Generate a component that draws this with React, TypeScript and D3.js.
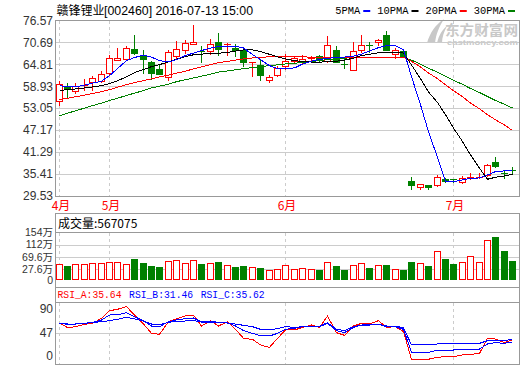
import React from "react";
import * as d3 from "d3";

// 赣锋锂业 daily K-line, 2016-04 .. 2016-07-13
const stockName = "赣锋锂业";
const stockStamp = "[002460] 2016-07-13 15:00";

const open = [54.88, 58.75, 57.57, 59.18, 59.99, 60.26, 62.51, 66.09, 66.28, 68.96, 67.43, 65.55, 63.59, 61.44, 67.08, 68.78, 70.39, 68.37, 68.37, 70.85, 69.93, 69.31, 68.59, 65.23, 64.74, 60.52, 62.06, 64.48, 65.63, 65.47, 66.45, 67.16, 65.63, 68.78, 64.9, 63.4, 68.59, 69.95, 70.85, 72.81, 67.7, 68.32, 33.65, 32.03, 32.41, 32.41, 34.02, 33.97, 33.3, 34.64, 34.56, 35.18, 38.75, 35.72, 36.39];
const high = [60.26, 59.83, 59.83, 60.9, 61.79, 62.94, 67.43, 69.23, 69.66, 72.81, 68.78, 65.63, 64.74, 68.59, 71.01, 71.33, 75.49, 69.66, 71.65, 73.26, 70.66, 70.25, 69.5, 65.5, 66.09, 62.06, 64.48, 67.5, 67.0, 67.43, 67.16, 67.43, 72.35, 69.85, 66.54, 70.85, 72.62, 70.74, 71.73, 73.69, 69.23, 68.78, 34.56, 32.68, 32.49, 35.18, 34.29, 34.18, 34.91, 35.64, 35.64, 38.14, 40.1, 36.52, 37.25];
const low = [53.99, 55.87, 57.14, 58.02, 58.02, 59.99, 62.33, 66.01, 66.09, 67.7, 62.51, 60.98, 62.19, 60.71, 66.54, 67.89, 70.31, 65.42, 67.7, 67.43, 67.3, 67.16, 64.48, 61.79, 60.71, 59.99, 61.6, 63.67, 65.3, 65.2, 65.9, 65.63, 65.36, 65.36, 63.86, 63.21, 68.05, 68.05, 70.12, 68.59, 66.54, 66.97, 31.33, 31.41, 31.41, 32.22, 33.38, 33.38, 32.95, 34.1, 34.29, 34.91, 37.25, 34.29, 35.64];
const close = [59.64, 58.21, 59.1, 59.37, 61.17, 62.33, 66.54, 66.54, 69.23, 67.89, 66.28, 62.59, 62.33, 68.05, 68.96, 70.58, 70.74, 68.24, 70.39, 68.96, 70.39, 68.59, 65.36, 65.42, 62.06, 61.44, 63.86, 65.63, 66.54, 66.28, 66.54, 65.9, 70.12, 65.47, 64.6, 68.32, 70.12, 69.85, 71.46, 68.78, 68.78, 67.16, 32.49, 32.68, 32.03, 34.56, 33.65, 33.75, 34.45, 34.72, 34.64, 37.87, 37.6, 35.58, 36.25];

const ma5 = [59.1, 58.75, 58.75, 59.23, 59.77, 60.31, 61.79, 63.67, 65.82, 66.63, 67.3, 66.76, 65.82, 65.47, 66.09, 67.16, 67.84, 68.51, 69.18, 69.58, 69.66, 69.66, 69.23, 67.43, 66.09, 64.48, 63.67, 63.67, 63.86, 64.88, 65.69, 66.09, 66.44, 66.63, 66.76, 67.03, 67.57, 68.37, 69.31, 69.85, 69.85, 68.78, 61.52, 53.99, 46.74, 39.88, 33.3, 33.38, 33.84, 34.29, 34.37, 35.18, 36.07, 36.25, 36.52];
const ma10 = [57.84, 58.02, 58.21, 58.48, 58.75, 59.1, 59.64, 60.44, 61.44, 62.59, 63.4, 64.21, 64.74, 65.47, 66.22, 66.89, 67.38, 67.57, 67.7, 67.78, 68.02, 68.37, 68.7, 68.67, 68.24, 67.51, 66.81, 66.28, 65.82, 65.6, 65.44, 65.36, 65.66, 65.66, 65.95, 66.49, 67.16, 67.54, 67.92, 68.1, 68.05, 67.84, 64.64, 60.98, 57.41, 54.61, 51.3, 47.73, 44.13, 40.55, 36.98, 34.02, 34.56, 34.91, 35.31];
const ma20 = [55.34, 55.74, 56.14, 56.55, 57.0, 57.49, 58.02, 58.7, 59.37, 59.91, 60.44, 60.93, 61.44, 61.95, 62.46, 63.0, 63.59, 64.15, 64.74, 65.28, 65.63, 65.95, 66.28, 66.54, 66.71, 66.84, 66.97, 66.89, 66.89, 66.81, 66.76, 66.74, 66.7, 66.68, 66.72, 66.69, 66.73, 66.7, 66.68, 66.71, 66.7, 66.68, 65.63, 64.13, 62.51, 60.98, 59.37, 57.76, 56.14, 54.45, 52.92, 51.3, 49.96, 48.54, 47.09];
const ma30 = [51.04, 51.71, 52.38, 53.08, 53.75, 54.42, 55.1, 55.77, 56.44, 57.11, 57.78, 58.48, 58.97, 59.5, 60.17, 60.71, 61.17, 61.65, 62.19, 62.73, 63.05, 63.35, 63.67, 63.94, 64.21, 64.48, 64.69, 64.93, 65.09, 65.34, 65.55, 65.82, 66.09, 66.36, 66.49, 66.58, 66.6, 66.63, 66.65, 66.67, 66.68, 66.66, 65.95, 64.88, 63.78, 62.7, 61.6, 60.52, 59.45, 58.35, 57.27, 56.2, 55.12, 54.13, 53.11];

// 成交量, 万手
const volume = [45.7, 38.9, 45.7, 45.7, 48.1, 48.1, 52.5, 52.5, 45.7, 62.8, 49.1, 38.9, 34.4, 54.9, 59.4, 49.1, 59.4, 45.7, 49.1, 52.5, 41.3, 34.4, 38.9, 34.4, 31.0, 25.2, 27.6, 41.3, 27.6, 31.0, 27.6, 25.2, 51.5, 38.9, 25.2, 41.3, 48.1, 32.0, 41.3, 42.3, 27.6, 25.2, 52.5, 48.1, 38.9, 90.1, 62.8, 45.7, 52.5, 72.0, 52.5, 127.7, 137.9, 90.1, 56.7075];

const rsiA = [66.0, 57.0, 58.8, 63.0, 64.8, 73.8, 87.5, 89.9, 94.7, 79.7, 63.6, 46.9, 45.1, 67.8, 72.6, 78.5, 79.7, 60.0, 69.6, 60.0, 67.8, 54.1, 37.9, 36.1, 26.0, 21.8, 37.9, 52.9, 52.9, 57.6, 61.8, 57.6, 77.9, 48.1, 43.3, 60.0, 64.8, 63.6, 69.6, 57.6, 58.8, 49.9, 0.3, 0.3, 0.5, 3.9, 5.1, 5.1, 8.1, 9.2, 11.0, 37.9, 36.7, 30.2, 35.64];
const rsiB = [64.8, 63.0, 63.6, 64.8, 66.6, 70.8, 79.7, 80.3, 83.9, 76.7, 69.6, 60.0, 58.8, 67.8, 70.8, 73.2, 74.4, 67.2, 68.4, 66.6, 66.0, 60.0, 51.7, 46.9, 42.7, 42.1, 46.9, 54.1, 55.9, 58.8, 59.4, 58.8, 64.8, 51.7, 48.1, 57.6, 61.8, 61.8, 63.0, 58.8, 58.8, 54.1, 12.9, 12.9, 12.9, 17.0, 17.0, 17.0, 18.2, 18.2, 18.8, 27.8, 30.2, 29.0, 31.46];
const rsiC = [64.8, 63.6, 63.6, 64.8, 66.0, 67.8, 69.6, 72.0, 75.6, 72.6, 69.0, 63.6, 62.4, 66.6, 68.4, 69.0, 69.6, 67.2, 67.2, 66.0, 65.4, 63.6, 61.2, 58.8, 54.1, 52.9, 55.3, 58.8, 57.6, 58.8, 60.0, 59.4, 66.0, 54.1, 51.7, 58.8, 61.8, 62.4, 63.0, 60.0, 60.0, 57.0, 26.0, 26.0, 26.0, 27.8, 27.8, 27.8, 28.4, 29.0, 29.0, 33.7, 34.3, 34.3, 35.62];

const priceTicks = [76.57, 70.69, 64.81, 58.93, 53.05, 47.17, 41.29, 35.41, 29.53];
const volumeTicks = [154, 112, 69.6, 27.6, 0];
const volumeTickLabels = ["154万", "112万", "69.6万", "27.6万", "0"];
const rsiTicks = [90, 47, 0];
const monthStarts = [0, 6, 27, 47];
const monthLabels = ["4月", "5月", "6月", "7月"];
const maLabels = ["5PMA", "10PMA", "20PMA", "30PMA"];
const maColors = ["#0000ff", "#000000", "#ff0000", "#008000"];

const RED = "#ff0000";
const GREEN = "#008000";
const BORDER = "#999999";
const GRID = "#cccccc";
const SANS = "'Liberation Sans', Arial, 'Noto Sans CJK SC', sans-serif";
const CJK = "'Noto Sans CJK SC', 'Liberation Sans', sans-serif";
const MONO = "'Liberation Mono', 'DejaVu Sans Mono', monospace";

const L = 56;
const R = 519.5;
const VOL_BASE = 280;
const PANEL_BOTTOM = 364;

export default function App() {
  const n = open.length;
  const x = d3.scalePoint<number>().domain(d3.range(n)).range([58.5, 512.1]);
  const yP = d3.scaleLinear().domain([29.53, 76.57]).range([196, 20.5]);
  const yV = d3.scaleLinear().domain([0, 154]).range([277.4, 232.3]);
  const yR = d3.scaleLinear().domain([0, 100]).range([359.5, 303.7]);
  const cxOf = (i: number) => Math.round(x(i) as number);
  const h = (v: number) => Math.round(v) + 0.5;

  const priceLine = d3.line<number>().x((_, i) => cxOf(i) + 0.5).y((v) => yP(v));
  const rsiLine = d3.line<number>().x((_, i) => cxOf(i) + 0.5).y((v) => yR(v));

  // legend layout, right aligned
  const charW = 6.25;
  const dashW = 7;
  let total = 0;
  maLabels.forEach((lb, k) => {
    total += lb.length * charW + 3 + dashW + (k < maLabels.length - 1 ? 7 : 0);
  });
  let lx = 515 - total;
  const legend = maLabels.map((lb, k) => {
    const item = { lb, tx: lx, w: lb.length * charW, dx: lx + lb.length * charW + 3, color: maColors[k] };
    lx += lb.length * charW + 3 + dashW + 7;
    return item;
  });

  const monthLines = (y1: number, y2: number) =>
    monthStarts.map((mi) => (
      <line key={mi} x1={cxOf(mi) + 0.5} x2={cxOf(mi) + 0.5} y1={y1} y2={y2} stroke={GRID} strokeDasharray="3,3" />
    ));

  const rsiHeader = [
    { t: `RSI_A:${rsiA[n - 1].toFixed(2)}`, c: RED },
    { t: `RSI_B:${rsiB[n - 1].toFixed(2)}`, c: "#0000ff" },
    { t: `RSI_C:${rsiC[n - 1].toFixed(2)}`, c: "#0000ff" },
  ];

  const volLabelY = (t: number) => (t === 0 ? VOL_BASE + 0.5 : yV(t));

  return (
    <svg width={520} height={365} style={{ position: "absolute", left: 0, top: 0, display: "block" }}>
      <rect width={520} height={365} fill="#fff" />

      {/* title */}
      <text x={56.5} y={14.5} fontFamily={CJK} fontSize={12} fill="#000">{stockName}</text>
      <text x={104} y={14.5} fontFamily={SANS} fontSize={12} fill="#000" textLength={149} lengthAdjust="spacingAndGlyphs">{stockStamp}</text>

      {/* MA legend */}
      {legend.map((it) => (
        <g key={it.lb}>
          <text x={it.tx} y={14} fontFamily={MONO} fontSize={11} fill="#000" textLength={it.w} lengthAdjust="spacingAndGlyphs">{it.lb}</text>
          <rect x={it.dx} y={10} width={dashW} height={2} fill={it.color} />
        </g>
      ))}

      {/* watermark */}
      <g fill="#c8c8c8">
        <path d="M427,43 C430,33 435,25 444,19 C439,27 436,34 435,43 Z" />
        <path d="M437,43 C439,35 442,30 447,26 C444,32 442,37 442,43 Z" />
        <text x={445} y={35} fontFamily={CJK} fontWeight="bold" fontSize={14} textLength={73} lengthAdjust="spacingAndGlyphs">东方财富网</text>
        <text x={447} y={44.5} fontFamily={SANS} fontWeight="bold" fontSize={8} textLength={71} lengthAdjust="spacingAndGlyphs">eastmoney.com</text>
      </g>

      {/* main panel */}
      <g shapeRendering="crispEdges">
        {priceTicks.slice(1, -1).map((t) => (
          <line key={t} x1={L} x2={R} y1={h(yP(t))} y2={h(yP(t))} stroke={GRID} />
        ))}
        {monthLines(21, 196)}
        <line x1={L} x2={R} y1={20.5} y2={20.5} stroke={BORDER} />
        <line x1={L} x2={R} y1={196.5} y2={196.5} stroke={BORDER} />
        <line x1={L - 0.5} x2={L - 0.5} y1={20} y2={197} stroke={BORDER} />
        <line x1={R} x2={R} y1={20} y2={197} stroke={BORDER} />
      </g>
      {priceTicks.map((t) => (
        <text key={t} x={53} y={yP(t)} dy="0.35em" textAnchor="end" fontFamily={SANS} fontSize={12} fill="#333">
          {t.toFixed(2)}
        </text>
      ))}

      {/* candles */}
      <g shapeRendering="crispEdges">
        {open.map((o, i) => {
          const c = close[i];
          const up = c >= o;
          const cx = cxOf(i);
          const col = up ? RED : GREEN;
          const yt = Math.round(yP(Math.max(o, c)));
          const yb = Math.round(yP(Math.min(o, c)));
          const yh = Math.round(yP(high[i]));
          const yl = Math.round(yP(low[i]));
          if (yb - yt < 2) {
            return (
              <g key={i}>
                <line x1={cx + 0.5} x2={cx + 0.5} y1={yh} y2={yl + 1} stroke={col} />
                <line x1={cx - 3} x2={cx + 4} y1={yt + 0.5} y2={yt + 0.5} stroke={col} />
              </g>
            );
          }
          if (up) {
            return (
              <g key={i}>
                <line x1={cx + 0.5} x2={cx + 0.5} y1={yh} y2={yt} stroke={col} />
                <line x1={cx + 0.5} x2={cx + 0.5} y1={yb} y2={yl + 1} stroke={col} />
                <rect x={cx - 2.5} y={yt + 0.5} width={6} height={yb - yt} fill="#fff" stroke={col} />
              </g>
            );
          }
          return (
            <g key={i}>
              <line x1={cx + 0.5} x2={cx + 0.5} y1={yh} y2={yl + 1} stroke={col} />
              <rect x={cx - 3} y={yt} width={7} height={yb - yt + 1} fill={col} />
            </g>
          );
        })}
      </g>

      {/* moving averages */}
      <g fill="none" strokeWidth={1} shapeRendering="crispEdges">
        <path d={priceLine(ma30) || ""} stroke={maColors[3]} />
        <path d={priceLine(ma20) || ""} stroke={maColors[2]} />
        <path d={priceLine(ma10) || ""} stroke={maColors[1]} />
        <path d={priceLine(ma5) || ""} stroke={maColors[0]} />
      </g>

      {/* month labels */}
      {monthStarts.map((mi, k) => (
        <text key={mi} x={cxOf(mi) + 2} y={210} textAnchor="middle" fontFamily={CJK} fontSize={12} fill={RED}>
          {monthLabels[k]}
        </text>
      ))}

      {/* volume panel */}
      <g shapeRendering="crispEdges">
        {volumeTicks.slice(1, -1).map((t) => (
          <line key={t} x1={L} x2={R} y1={h(yV(t))} y2={h(yV(t))} stroke={GRID} />
        ))}
        {monthLines(233, VOL_BASE)}
        <line x1={L} x2={R} y1={213.5} y2={213.5} stroke={BORDER} />
        <line x1={L} x2={R} y1={232.5} y2={232.5} stroke={BORDER} />
        <line x1={L - 0.5} x2={L - 0.5} y1={213} y2={287} stroke={BORDER} />
        <line x1={R} x2={R} y1={213} y2={287} stroke={BORDER} />
        {volume.map((v, i) => {
          const up = close[i] >= open[i];
          const cx = cxOf(i);
          const top = Math.round(yV(v));
          return up ? (
            <rect key={i} x={cx - 2.5} y={top + 0.5} width={6} height={VOL_BASE - 1 - top} fill="#fff" stroke={RED} />
          ) : (
            <rect key={i} x={cx - 3} y={top} width={7} height={VOL_BASE - top} fill={GREEN} />
          );
        })}
      </g>
      <text x={58} y={227.5} fontFamily={CJK} fontSize={12} fill="#000">
        {`成交量:${Math.round(volume[n - 1] * 10000)}`}
      </text>
      {volumeTicks.map((t, k) => (
        <text key={t} x={53} y={volLabelY(t)} dy="0.35em" textAnchor="end" fontFamily={SANS} fontSize={10.5} fill="#333">
          {volumeTickLabels[k]}
        </text>
      ))}

      {/* RSI panel */}
      <g shapeRendering="crispEdges">
        <line x1={L} x2={R} y1={h(yR(47))} y2={h(yR(47))} stroke={GRID} />
        {monthLines(303, PANEL_BOTTOM)}
        <line x1={L} x2={R} y1={287.5} y2={287.5} stroke={BORDER} />
        <line x1={L} x2={R} y1={302.5} y2={302.5} stroke={BORDER} />
        <line x1={L} x2={R} y1={PANEL_BOTTOM + 0.5} y2={PANEL_BOTTOM + 0.5} stroke={BORDER} />
        <line x1={L - 0.5} x2={L - 0.5} y1={287} y2={365} stroke={BORDER} />
        <line x1={R} x2={R} y1={287} y2={365} stroke={BORDER} />
      </g>
      {rsiHeader.map((r, k) => (
        <text key={r.t} x={57.5 + k * 71.6} y={297.5} fontFamily={MONO} fontSize={10} fill={r.c} textLength={64} lengthAdjust="spacingAndGlyphs">
          {r.t}
        </text>
      ))}
      {rsiTicks.map((t) => (
        <text key={t} x={53} y={Math.min(yR(t), 356)} dy="0.35em" textAnchor="end" fontFamily={SANS} fontSize={12} fill="#333">
          {t}
        </text>
      ))}
      <g fill="none" strokeWidth={1} shapeRendering="crispEdges">
        <path d={rsiLine(rsiA) || ""} stroke={RED} />
        <path d={rsiLine(rsiC) || ""} stroke="#0000ff" />
        <path d={rsiLine(rsiB) || ""} stroke="#0000ff" />
      </g>
    </svg>
  );
}
